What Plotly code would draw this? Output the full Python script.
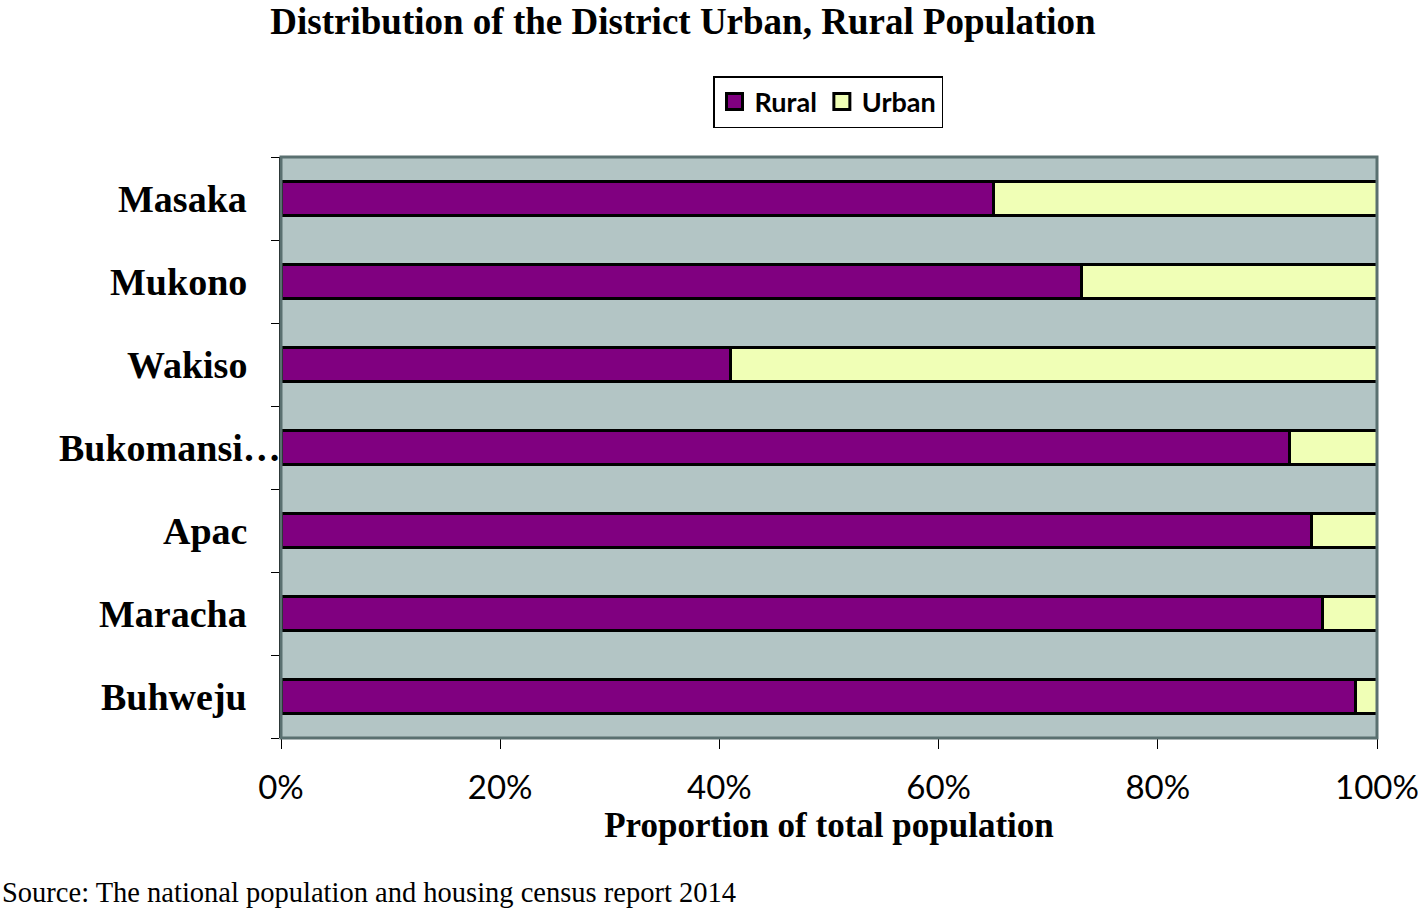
import plotly.graph_objects as go

districts = ["Masaka", "Mukono", "Wakiso", "Bukomansi…", "Apac", "Maracha", "Buhweju"]
rural = [0.65, 0.73, 0.41, 0.92, 0.94, 0.95, 0.98]
urban = [round(1 - r, 2) for r in rural]
x_ticks = [0, 0.2, 0.4, 0.6, 0.8, 1.0]
x_tick_labels = ["0%", "20%", "40%", "60%", "80%", "100%"]

RURAL_C = "#800080"
URBAN_C = "#F0FFB6"

W, H = 1418, 908
L, R, T, B = 281, 41, 157, 170
PW = W - L - R
PH = H - T - B

fig = go.Figure()
fig.add_trace(go.Bar(
    y=districts, x=rural, name="Rural", orientation="h", showlegend=False,
    marker=dict(color=RURAL_C, line=dict(color="black", width=3)),
))
fig.add_trace(go.Bar(
    y=districts, x=urban, name="Urban", orientation="h", showlegend=False,
    marker=dict(color=URBAN_C, line=dict(color="black", width=3)),
))
for nm, col in [("Rural", RURAL_C), ("Urban", URBAN_C)]:
    fig.add_trace(go.Scatter(
        x=[None], y=[None], mode="markers", name=nm,
        marker=dict(symbol="square", size=17, color=col, line=dict(color="black", width=3)),
    ))

fig.update_layout(
    width=W, height=H,
    margin=dict(l=L, r=R, t=T, b=B, autoexpand=False),
    barmode="stack", bargap=0.58,
    paper_bgcolor="white", plot_bgcolor="#B3C5C5",
    title=dict(
        text="<b>Distribution of the District Urban, Rural Population</b>",
        x=683 / W, xanchor="center", y=1 - 21 / H, yanchor="middle",
        font=dict(family="Liberation Serif", size=37, color="black"),
    ),
    showlegend=True,
    legend=dict(
        orientation="h", x=828 / W, xref="container", xanchor="center",
        y=1 - 76 / H, yref="container", yanchor="top",
        bordercolor="black", borderwidth=1.5, bgcolor="white",
        font=dict(family="Lato", size=27, color="black", weight="bold"),
        traceorder="normal", itemwidth=30, tracegroupgap=0,
    ),
    xaxis=dict(
        range=[0, 1], tickvals=x_ticks, ticktext=x_tick_labels,
        showgrid=False, zeroline=False,
        ticks="outside", ticklen=10, tickcolor="black", tickwidth=1,
        tickfont=dict(family="Lato", size=33, color="black"),
        ticklabeloverflow="allow", ticklabelstandoff=10,
        showline=False,
        title=dict(text="<b>Proportion of total population</b>",
                   font=dict(family="Liberation Serif", size=35, color="black"),
                   standoff=0),
    ),
    yaxis=dict(
        categoryorder="array", categoryarray=districts[::-1],
        showgrid=False, zeroline=False,
        ticks="outside", ticklen=8, tickcolor="black", tickwidth=1,
        tickson="boundaries", showticklabels=False,
        showline=True, linecolor="black", linewidth=2,
    ),
)

# category labels (long one overflows toward the axis, as in the original)
for d in districts:
    fig.add_annotation(
        text=f"<b>{d}</b>", xref="paper", yref="y", x=0, y=d,
        xanchor="right", yanchor="middle", showarrow=False,
        xshift=(2 if d.endswith("…") else -32),
        font=dict(family="Liberation Serif", size=38, color="black"),
    )

fig.add_shape(type="rect", xref="paper", yref="paper", x0=0, x1=1, y0=0, y1=1,
              line=dict(color="#5A7070", width=3), layer="above")

fig.add_annotation(
    text="Source: The national population and housing census report 2014",
    xref="paper", yref="paper", x=-L / PW, xanchor="left",
    y=-(892 - (H - B)) / PH, yanchor="middle", showarrow=False,
    font=dict(family="Liberation Serif", size=28.5, color="black"),
)

fig.write_html(
    "out.html",
    config={"displayModeBar": False},
    post_script="document.body.style.margin='0';document.body.style.overflow='hidden';",
)
